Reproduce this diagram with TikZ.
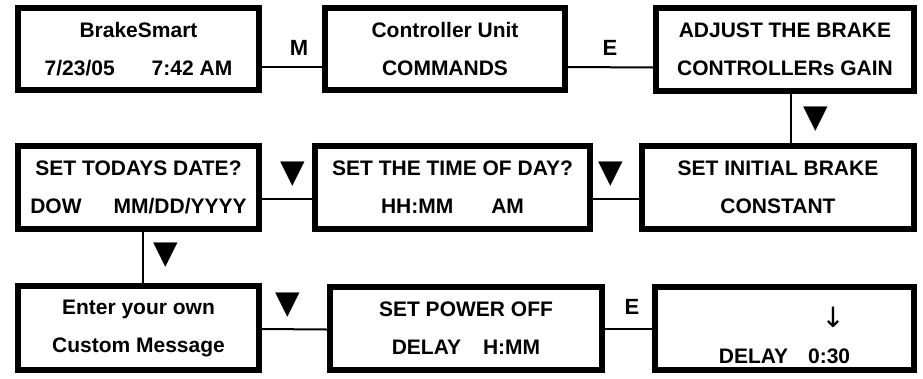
\documentclass[tikz,border=0pt]{standalone}
\usepackage{fontspec}
\setmainfont{Liberation Sans}
\newfontfamily\symfont{DejaVu Sans}
\begin{document}
\begin{tikzpicture}[x=1pt,y=-1pt,
  box/.style={draw, line width=6pt, inner sep=0pt, align=center,
    font=\bfseries\fontsize{21}{38}\selectfont},
  conn/.style={line width=2pt},
  tri/.style={inner sep=0pt, font=\symfont\fontsize{32}{32}\selectfont},
  lab/.style={inner sep=0pt, font=\bfseries\fontsize{22}{22}\selectfont}]
\useasboundingbox (0,0) rectangle (923,378);
% row 1
\node[box, minimum width=241pt, minimum height=82pt] (b1) at (138.5,49)
  {BrakeSmart\\7/23/05\hspace{37pt}7:42 AM};
\node[box, minimum width=240pt, minimum height=82pt] (b2) at (445,49)
  {Controller Unit\\COMMANDS};
\node[box, minimum width=258pt, minimum height=83pt] (b3) at (785,49.5)
  {ADJUST THE BRAKE\\CONTROLLERs GAIN};
% row 2
\node[box, minimum width=241pt, minimum height=83pt] (b4) at (138.5,187.5)
  {SET TODAYS DATE?\\DOW\hspace{32pt}MM/DD/YYYY};
\node[box, minimum width=275pt, minimum height=83pt] (b5) at (452.5,187.5)
  {SET THE TIME OF DAY?\\HH:MM\hspace{38pt}AM};
\node[box, minimum width=272pt, minimum height=83pt] (b6) at (778,187.5)
  {SET INITIAL BRAKE\\CONSTANT};
% row 3
\node[box, minimum width=241pt, minimum height=84pt] (b7) at (138.5,328)
  {Enter your own\\Custom Message};
\node[box, minimum width=272pt, minimum height=83pt] (b8) at (466,328.5)
  {SET POWER OFF\\DELAY\hspace{22pt}H:MM};
\node[box, minimum width=259pt, minimum height=83pt] (b9) at (784.5,328.5)
  {\strut\\[6pt]DELAY\hspace{20pt}0:30};
\node[inner sep=0pt, font=\symfont\fontsize{28}{28}\selectfont] (arr) at (833,317) {↓};
% connectors
\draw[conn] ([yshift=-18pt]b1.east) -- ([yshift=-18pt]b2.west);
\draw[conn] ([yshift=-18pt]b2.east) -- ([yshift=-18pt]b3.west);
\path ([xshift=5.5pt]b3.south) coordinate (v1);
\draw[conn] (v1) -- (v1 |- b6.north);
\draw[conn] ([yshift=-11.5pt]b4.east) -- ([yshift=-11.5pt]b5.west);
\draw[conn] ([yshift=-11.5pt]b5.east) -- ([yshift=-11.5pt]b6.west);
\path ([xshift=4.5pt]b4.south) coordinate (v2);
\draw[conn] (v2) -- (v2 |- b7.north);
\draw[conn] ([yshift=-1pt]b7.east) -- ([yshift=-1pt]b8.west);
\draw[conn] ([yshift=-0.5pt]b8.east) -- ([yshift=-0.5pt]b9.west);
% labels
\node[lab] (m1) at (299,48) {M};
\node[lab] (e1) at (610,48) {E};
\node[lab] (e2) at (632,307) {E};
\node[tri] (t1) at (816,119) {▼};
\node[tri] (t2) at (292.5,174) {▼};
\node[tri] (t3) at (611,174) {▼};
\node[tri] (t4) at (166,255) {▼};
\node[tri] (t5) at (288,305) {▼};
\end{tikzpicture}
\end{document}
